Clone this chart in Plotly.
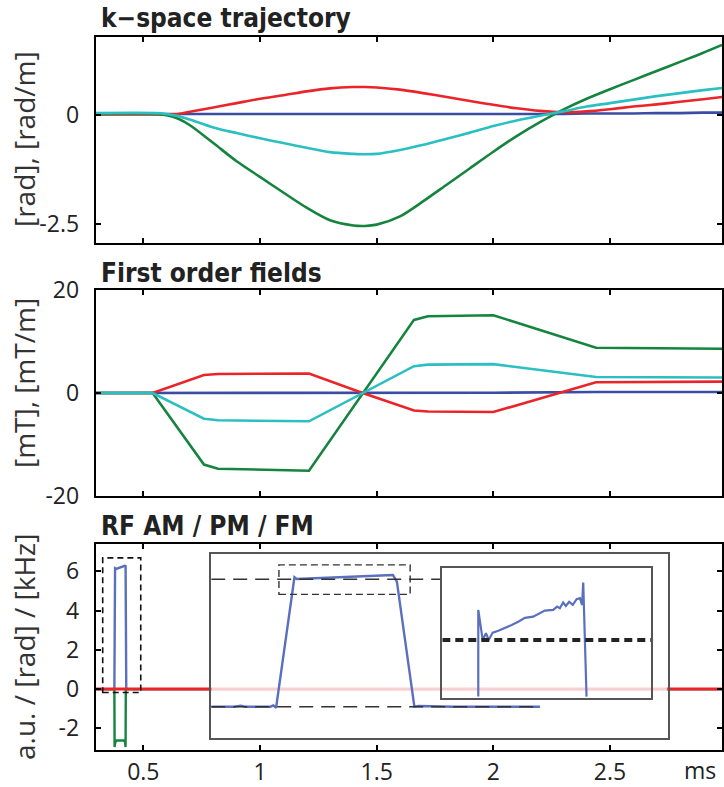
import plotly.graph_objects as go

W, H = 724, 787

# ---------------- data ----------------
# k-space trajectory (top panel)
t_k = [0.296, 0.55, 0.60, 0.65, 0.70, 0.80, 0.90, 1.00, 1.10, 1.20, 1.30, 1.40, 1.45, 1.50,
       1.60, 1.70, 1.80, 1.90, 2.00, 2.10, 2.20, 2.30, 2.40, 2.50, 2.60, 2.70, 2.80, 2.90, 2.98]
k_blue = [0.03, 0.03, 0.03, 0.03, 0.03, 0.03, 0.03, 0.03, 0.03, 0.03, 0.03, 0.03, 0.03, 0.03,
          0.03, 0.03, 0.03, 0.03, 0.03, 0.03, 0.03, 0.03, 0.04, 0.04, 0.04, 0.05, 0.05, 0.06, 0.06]
k_red = [0.02, 0.02, 0.02, 0.03, 0.08, 0.18, 0.28, 0.38, 0.46, 0.55, 0.62, 0.65, 0.65, 0.64,
         0.59, 0.51, 0.42, 0.33, 0.24, 0.16, 0.10, 0.07, 0.09, 0.14, 0.20, 0.25, 0.31, 0.37, 0.42]
k_cyan = [0.05, 0.05, 0.03, -0.02, -0.10, -0.28, -0.41, -0.53, -0.64, -0.75, -0.85, -0.89, -0.90, -0.89,
          -0.80, -0.68, -0.54, -0.40, -0.25, -0.12, -0.01, 0.09, 0.20, 0.28, 0.36, 0.44, 0.51, 0.58, 0.63]
k_green = [0.03, 0.03, 0.00, -0.08, -0.23, -0.64, -1.06, -1.42, -1.78, -2.13, -2.42, -2.54, -2.55, -2.52,
           -2.33, -1.98, -1.60, -1.22, -0.84, -0.48, -0.16, 0.13, 0.38, 0.60, 0.81, 1.02, 1.23, 1.44, 1.62]

# first order fields (middle panel)
t_f = [0.296, 0.54, 0.76, 0.82, 1.21, 1.44, 1.66, 1.72, 2.00, 2.44, 2.98]
f_blue = [0, 0, 0, 0, 0, 0, 0, 0, 0.05, 0.2, 0.2]
f_red = [0, 0, 3.5, 3.7, 3.8, 0, -3.4, -3.6, -3.7, 2.1, 2.2]
f_cyan = [0, 0, -5.0, -5.3, -5.5, 0, 5.2, 5.5, 5.6, 3.1, 3.0]
f_green = [0, 0, -13.9, -14.7, -15.1, 0, 14.2, 14.9, 15.1, 8.8, 8.6]

# RF AM / PM / FM (bottom panel)
t_am = [0.296, 0.376, 0.379, 0.384, 0.422, 0.424, 0.427, 2.98]
rf_am = [0, 0, 6.15, 6.12, 6.28, 6.30, 0, 0]
t_fm = [0.296, 0.376, 0.377, 0.380, 0.386, 0.418, 0.422, 0.424, 0.425, 2.98]
rf_fm = [0, 0, -2.95, -2.70, -2.62, -2.62, -2.70, -2.95, 0, 0]
t_pm = [0.296, 2.98]
rf_pm = [0, 0]

# inset 1 (zoom on pulse)
in1_t = [0.354, 0.362, 0.3645, 0.366, 0.375, 0.3760, 0.3770, 0.3835, 0.3843, 0.4000,
         0.4184, 0.4198, 0.4260, 0.4275, 0.4400, 0.4705]
in1_v = [0.0, 0.0, 0.05, 0.0, 0.0, 0.06, -0.05, 6.14, 6.06, 6.14, 6.25, 5.93, 0.0, 0.03, 0.0, 0.0]
in1_ref_t = [0.354, 0.4357]
in1_ref_v = [6.05, 6.05]
in1_base_t = [0.354, 0.4705]
in1_base_v = [0.0, 0.0]

# inset 2 (zoom on pulse top)
in2_t = [0.3834, 0.3834, 0.38487, 0.38597, 0.38687, 0.3882, 0.39007, 0.3923, 0.39453, 0.39673,
         0.39897, 0.4017, 0.4040, 0.4056, 0.4084, 0.4097, 0.4106, 0.4117, 0.4126, 0.4137,
         0.4149, 0.4162, 0.4173, 0.4180, 0.4184, 0.4195]
in2_v = [5.78, 6.193, 6.05, 6.082, 6.05, 6.085, 6.094, 6.107, 6.121, 6.137,
         6.155, 6.161, 6.177, 6.19, 6.193, 6.209, 6.201, 6.228, 6.212, 6.232,
         6.217, 6.244, 6.249, 6.217, 6.323, 5.78]
in2_ref_t = [0.3714, 0.441]
in2_ref_v = [6.05, 6.05]

x_ticks = [0.5, 1, 1.5, 2, 2.5]
x_ticktext = ["0.5", "1", "1.5", "2", "2.5"]
y1_ticks = [-2.5, 0]
y1_ticktext = ["-2.5", "0"]
y2_ticks = [-20, 0, 20]
y2_ticktext = ["-20", "0", "20"]
y3_ticks = [-2, 0, 2, 4, 6]
y3_ticktext = ["-2", "0", "2", "4", "6"]

titles = ["k\u2212space trajectory", "First order fields", "RF AM / PM / FM"]
ytitles = ["[rad], [rad/m]", "[mT], [mT/m]", "a.u. / [rad] / [kHz]"]

# ---------------- styles ----------------
BLUE = "#3b4da3"
RED = "#ea2429"
CYAN = "#2bbfc2"
GREEN = "#15843f"
BLUE_L = "#5a6fbf"

def px_x(p):
    return p / W

def px_y(p):
    return 1 - p / H

fig = go.Figure()

LW = 2.6
# top
for y, c in [(k_blue, BLUE), (k_red, RED), (k_green, GREEN), (k_cyan, CYAN)]:
    fig.add_trace(go.Scatter(x=t_k, y=y, mode="lines",
                             line=dict(color=c, width=LW, shape="spline", smoothing=0.8),
                             xaxis="x", yaxis="y", showlegend=False, hoverinfo="skip"))
# middle
for y, c in [(f_blue, BLUE), (f_red, RED), (f_green, GREEN), (f_cyan, CYAN)]:
    fig.add_trace(go.Scatter(x=t_f, y=y, mode="lines", line=dict(color=c, width=LW),
                             xaxis="x2", yaxis="y2", showlegend=False, hoverinfo="skip"))
# bottom
fig.add_trace(go.Scatter(x=t_am, y=rf_am, mode="lines", line=dict(color=BLUE_L, width=2.4),
                         xaxis="x3", yaxis="y3", showlegend=False, hoverinfo="skip"))
fig.add_trace(go.Scatter(x=t_fm, y=rf_fm, mode="lines", line=dict(color=GREEN, width=2.4),
                         xaxis="x3", yaxis="y3", showlegend=False, hoverinfo="skip"))
fig.add_trace(go.Scatter(x=t_pm, y=rf_pm, mode="lines", line=dict(color=RED, width=3),
                         xaxis="x3", yaxis="y3", showlegend=False, hoverinfo="skip"))
# inset 1
fig.add_trace(go.Scatter(x=in1_t, y=in1_v, mode="lines", line=dict(color=BLUE_L, width=2.4),
                         xaxis="x4", yaxis="y4", showlegend=False, hoverinfo="skip"))
fig.add_trace(go.Scatter(x=in1_ref_t, y=in1_ref_v, mode="lines",
                         line=dict(color="#333333", width=1.5, dash="14px,8px"),
                         xaxis="x4", yaxis="y4", showlegend=False, hoverinfo="skip"))
fig.add_trace(go.Scatter(x=in1_base_t, y=in1_base_v, mode="lines",
                         line=dict(color="#333333", width=1.5, dash="14px,8px"),
                         xaxis="x4", yaxis="y4", showlegend=False, hoverinfo="skip"))
# inset 2
fig.add_trace(go.Scatter(x=in2_t, y=in2_v, mode="lines", line=dict(color=BLUE_L, width=2.2),
                         xaxis="x5", yaxis="y5", showlegend=False, hoverinfo="skip"))
fig.add_trace(go.Scatter(x=in2_ref_t, y=in2_ref_v, mode="lines",
                         line=dict(color="#222222", width=4, dash="8px,5px"),
                         xaxis="x5", yaxis="y5", showlegend=False, hoverinfo="skip"))

TICKFONT_X = dict(family="Open Sans, Noto Sans, sans-serif", size=23, color="#222")
TICKFONT_Y = dict(family="Open Sans, Noto Sans, sans-serif", size=23, color="#222")

XR = [0.296, 2.98]
XD = [px_x(95.7), px_x(722)]

def main_x(anchor, labels):
    return dict(domain=XD, range=XR, anchor=anchor, showgrid=False, zeroline=False,
                automargin=False,
                showline=True, linecolor="black", linewidth=2, mirror="ticks",
                ticks="inside", ticklen=5, tickwidth=1.5, tickcolor="black",
                tickvals=x_ticks, ticktext=x_ticktext, showticklabels=labels,
                tickfont=TICKFONT_X, ticklabelstandoff=0)

def main_y(anchor, dom, rng, tv, tt):
    return dict(domain=dom, range=rng, anchor=anchor, showgrid=False, zeroline=False,
                automargin=False,
                showline=True, linecolor="black", linewidth=2, mirror="ticks",
                ticks="inside", ticklen=5, tickwidth=1.5, tickcolor="black",
                tickvals=tv, ticktext=tt, tickfont=TICKFONT_Y, ticklabelstandoff=10)

def inset_ax(anchor, dom, rng):
    return dict(domain=dom, range=rng, anchor=anchor, showgrid=False, zeroline=False,
                automargin=False,
                showline=True, linecolor="#555555", linewidth=1.6, mirror=True,
                ticks="", showticklabels=False)

IN1_X = [0.354, 0.5157]
IN1_Y = [-1.5, 7.23]
IN2_X = [0.3714, 0.441]
IN2_Y = [5.772, 6.395]

fig.update_layout(
    template="none",
    width=W, height=H, autosize=False,
    margin=dict(l=0, r=0, t=0, b=0, pad=0),
    paper_bgcolor="white", plot_bgcolor="rgba(0,0,0,0)",
    xaxis=main_x("y", False),
    yaxis=main_y("x", [px_y(243.3), px_y(36.7)], [-2.95, 1.81], y1_ticks, y1_ticktext),
    xaxis2=main_x("y2", False),
    yaxis2=main_y("x2", [px_y(496), px_y(290)], [-20, 20], y2_ticks, y2_ticktext),
    xaxis3=main_x("y3", True),
    yaxis3=main_y("x3", [px_y(750), px_y(543.5)], [-3.1, 7.41], y3_ticks, y3_ticktext),
    xaxis4=inset_ax("y4", [px_x(211.2), px_x(667.5)], IN1_X),
    yaxis4=inset_ax("x4", [px_y(738.3), px_y(554.3)], IN1_Y),
    xaxis5=inset_ax("y5", [px_x(442.3), px_x(651)], IN2_X),
    yaxis5=inset_ax("x5", [px_y(698.3), px_y(567.5)], IN2_Y),
)

# semi-transparent background of inset 1 (fades the red line below it)
fig.add_shape(type="rect", xref="x4", yref="y4", x0=IN1_X[0], x1=IN1_X[1], y0=IN1_Y[0], y1=IN1_Y[1],
              fillcolor="rgba(255,255,255,0.78)", line=dict(width=0), layer="below")
# dashed zoom boxes
fig.add_shape(type="rect", xref="x3", yref="y3", x0=0.326, x1=0.489, y0=-0.17, y1=6.68,
              line=dict(color="#111", width=1.6, dash="6px,4px"), layer="above")
fig.add_shape(type="rect", xref="x4", yref="y4", x0=0.378, x1=0.4245, y0=5.33, y1=6.73,
              line=dict(color="#333", width=1.4, dash="7px,4px"), layer="above")

TITLEFONT = dict(family="Liberation Sans Narrow, DejaVu Sans Condensed, Arial Narrow, sans-serif",
                 size=26, color="#222")
for txt, base in zip(titles, [27, 281.7, 535]):
    fig.add_annotation(text="<b>" + txt + "</b>", x=px_x(100), y=px_y(base - 25), xref="paper", yref="paper",
                       xanchor="left", yanchor="top", showarrow=False, font=TITLEFONT,
                       borderpad=0)

YTFONT = dict(family="Open Sans, Noto Sans, sans-serif", size=28, color="#333")
for txt, yc in zip(ytitles, [139, 383, 647]):
    fig.add_annotation(text=txt, x=px_x(24), y=px_y(yc), xref="paper", yref="paper",
                       xanchor="center", yanchor="middle", textangle=-90, showarrow=False, font=YTFONT)

fig.add_annotation(text="ms", x=px_x(700), y=px_y(770), xref="paper", yref="paper",
                   xanchor="center", yanchor="middle", showarrow=False, font=TICKFONT_X)

fig.write_html("out.html")
